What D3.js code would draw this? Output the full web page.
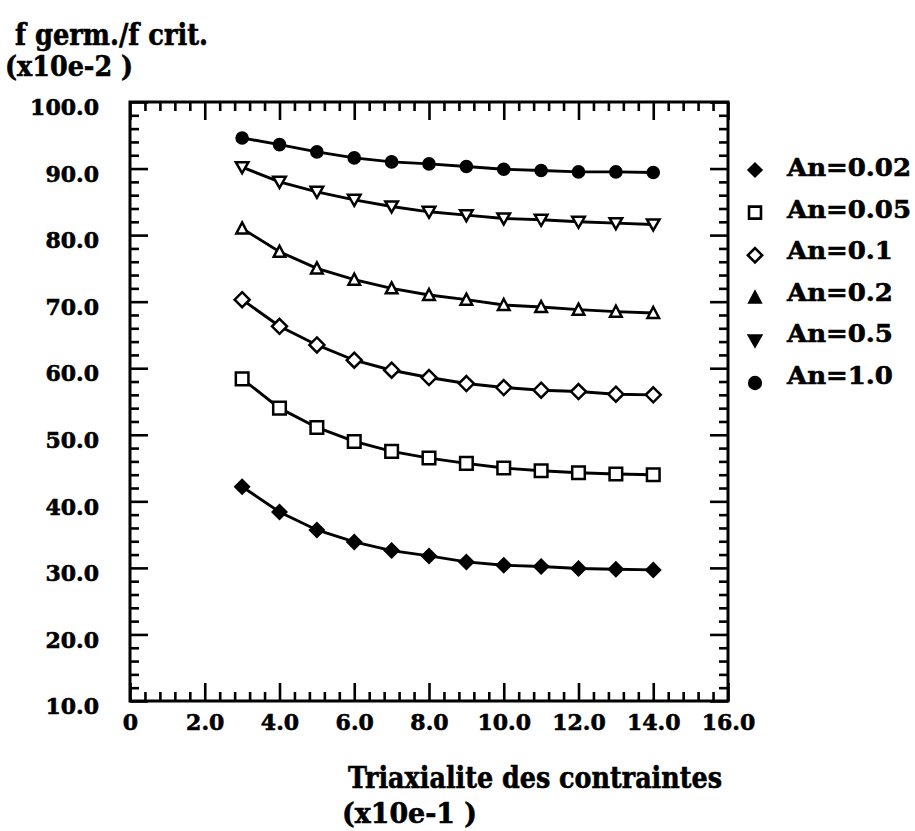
<!DOCTYPE html>
<html>
<head>
<meta charset="utf-8">
<script src="https://cdn.jsdelivr.net/npm/d3@7"></script>
<style>
  html, body { margin: 0; padding: 0; background: #fff; }
  svg { display: block; }
  text { font-family: "DejaVu Serif", "Liberation Serif", serif; font-weight: bold; fill: #000; stroke: #000; stroke-width: 0.6px; }
</style>
</head>
<body>
<svg id="chart" width="915" height="831"></svg>
<script>
// ---------- data ----------
const xValues = [3, 4, 5, 6, 7, 8, 9, 10, 11, 12, 13, 14];
const seriesNames = ["An=0.02", "An=0.05", "An=0.1", "An=0.2", "An=0.5", "An=1.0"];
const an002 = [42.2, 38.4, 35.7, 33.9, 32.6, 31.8, 30.9, 30.4, 30.2, 29.9, 29.8, 29.7];
const an005 = [58.4, 54.0, 51.1, 49.0, 47.5, 46.5, 45.7, 45.0, 44.6, 44.3, 44.1, 44.0];
const an01  = [70.3, 66.3, 63.5, 61.2, 59.7, 58.6, 57.7, 57.1, 56.7, 56.5, 56.1, 56.0];
const an02  = [81.0, 77.5, 75.0, 73.3, 72.0, 71.0, 70.3, 69.5, 69.2, 68.8, 68.5, 68.3];
const an05  = [90.2, 88.0, 86.5, 85.3, 84.3, 83.5, 83.0, 82.5, 82.3, 82.0, 81.8, 81.6];
const an10  = [94.6, 93.6, 92.5, 91.6, 91.0, 90.7, 90.3, 89.9, 89.7, 89.5, 89.5, 89.4];
const xTickValues = [0, 2, 4, 6, 8, 10, 12, 14, 16];
const xTickLabels = ["0", "2.0", "4.0", "6.0", "8.0", "10.0", "12.0", "14.0", "16.0"];
const yTickValues = [10, 20, 30, 40, 50, 60, 70, 80, 90, 100];
const yTickLabels = ["10.0", "20.0", "30.0", "40.0", "50.0", "60.0", "70.0", "80.0", "90.0", "100.0"];
const yTitle = ["f germ./f crit.", "(x10e-2 )"];
const xTitle = ["Triaxialite des contraintes", "(x10e-1 )"];

// ---------- setup ----------
const seriesValues = [an002, an005, an01, an02, an05, an10];
const markerKinds = ["diamondFilled", "square", "diamondOpen", "triUp", "triDown", "circle"];

const svg = d3.select("#chart");
const x = d3.scaleLinear().domain([0, 16]).range([130, 728]);
const y = d3.scaleLinear().domain([10, 100]).range([701, 102]);

const xMinor = d3.range(0, 16.0001, 0.4).filter(v => Math.abs(v / 2 - Math.round(v / 2)) > 1e-6);
const yMinor = d3.range(10, 100.0001, 2).filter(v => v % 10 !== 0);

function styleAxis(g) {
  g.select(".domain").remove();
  g.selectAll(".tick line").attr("stroke", "#000").attr("stroke-width", 2.6);
  g.selectAll(".tick text").style("font-size", "22px").attr("fill", "#000");
}

const X0 = x.range()[0], X1 = x.range()[1], Y0 = y.range()[0], Y1 = y.range()[1];

// bottom axis (labels + major)
svg.append("g").attr("transform", `translate(0,${Y0})`)
  .call(d3.axisBottom(x).tickValues(xTickValues).tickSizeInner(-18).tickSizeOuter(0).tickPadding(13)
    .tickFormat((d, i) => xTickLabels[i]))
  .call(styleAxis);
svg.append("g").attr("transform", `translate(0,${Y0})`)
  .call(d3.axisBottom(x).tickValues(xMinor).tickSizeInner(-9).tickSizeOuter(0).tickFormat(""))
  .call(styleAxis);
// top axis
svg.append("g").attr("transform", `translate(0,${Y1})`)
  .call(d3.axisTop(x).tickValues(xTickValues).tickSizeInner(-18).tickSizeOuter(0).tickFormat(""))
  .call(styleAxis);
svg.append("g").attr("transform", `translate(0,${Y1})`)
  .call(d3.axisTop(x).tickValues(xMinor).tickSizeInner(-9).tickSizeOuter(0).tickFormat(""))
  .call(styleAxis);
// left axis
const gl = svg.append("g").attr("transform", `translate(${X0},0)`)
  .call(d3.axisLeft(y).tickValues(yTickValues).tickSizeInner(-18).tickSizeOuter(0).tickPadding(31)
    .tickFormat((d, i) => yTickLabels[i]))
  .call(styleAxis);
gl.selectAll(".tick text").attr("dy", "0.58em");
svg.append("g").attr("transform", `translate(${X0},0)`)
  .call(d3.axisLeft(y).tickValues(yMinor).tickSizeInner(-9).tickSizeOuter(0).tickFormat(""))
  .call(styleAxis);
// right axis
svg.append("g").attr("transform", `translate(${X1},0)`)
  .call(d3.axisRight(y).tickValues(yTickValues).tickSizeInner(-18).tickSizeOuter(0).tickFormat(""))
  .call(styleAxis);
svg.append("g").attr("transform", `translate(${X1},0)`)
  .call(d3.axisRight(y).tickValues(yMinor).tickSizeInner(-9).tickSizeOuter(0).tickFormat(""))
  .call(styleAxis);

// frame
svg.append("rect")
  .attr("x", X0).attr("y", Y1).attr("width", X1 - X0).attr("height", Y0 - Y1)
  .attr("fill", "none").attr("stroke", "#000").attr("stroke-width", 3);

// ---------- markers ----------
function markerPath(kind, s) {
  switch (kind) {
    case "diamondFilled": { const r = 8.5 * s; return `M0,${-r}L${r},0L0,${r}L${-r},0Z`; }
    case "diamondOpen": { const r = 7.5 * s; return `M0,${-r}L${r},0L0,${r}L${-r},0Z`; }
    case "square": { const h = 6.3 * s; return `M${-h},${-h}H${h}V${h}H${-h}Z`; }
    case "triUp": { const w = 5.8 * s, h = 5 * s; return `M0,${-h - 1}L${w},${h}L${-w},${h}Z`; }
    case "triDown": { const w = 6.3 * s, h = 5 * s; return `M0,${h + 1}L${w},${-h}L${-w},${-h}Z`; }
    case "circle": { const r = 6.8 * s; return `M${r},0A${r},${r} 0 1,1 ${-r},0A${r},${r} 0 1,1 ${r},0Z`; }
  }
}
function isFilled(kind) { return kind === "diamondFilled" || kind === "circle"; }

const line = d3.line().x(d => x(d[0])).y(d => y(d[1]));

seriesValues.forEach((vals, si) => {
  const pts = xValues.map((xv, i) => [xv, vals[i]]);
  const kind = markerKinds[si];
  svg.append("path").datum(pts)
    .attr("d", line).attr("fill", "none").attr("stroke", "#000").attr("stroke-width", 2.9);
  svg.append("g").selectAll("path").data(pts).join("path")
    .attr("transform", d => `translate(${x(d[0])},${y(d[1])})`)
    .attr("d", markerPath(kind, 1))
    .attr("fill", isFilled(kind) ? "#000" : "#fff")
    .attr("stroke", "#000")
    .attr("stroke-width", isFilled(kind) ? 0 : 2.5)
    .attr("stroke-linejoin", "miter");
});

// ---------- legend ----------
const legendFilled = k => isFilled(k) || k === "triUp" || k === "triDown";
const legend = svg.append("g");
let legendFactor = null;
seriesNames.forEach((name, i) => {
  const kind = markerKinds[i];
  legend.append("path")
    .attr("transform", `translate(755,${170 + i * 42.6})`)
    .attr("d", markerPath(kind, kind === "circle" ? 1.05 : 0.95))
    .attr("fill", legendFilled(kind) ? "#000" : "#fff")
    .attr("stroke", "#000")
    .attr("stroke-width", isFilled(kind) ? 0 : 2.6);
  const t = legend.append("text")
    .attr("x", 787).attr("y", 176 + i * 41.6)
    .style("font-size", "24px")
    .text(name);
  const w = t.node().getComputedTextLength();
  if (legendFactor === null) legendFactor = 124 / w;
  t.attr("textLength", w * legendFactor).attr("lengthAdjust", "spacingAndGlyphs");
});

// ---------- titles ----------
function fitText(sel, width) {
  sel.attr("textLength", width).attr("lengthAdjust", "spacingAndGlyphs");
}
svg.append("text").attr("x", 15).attr("y", 45).style("font-size", "29px").text(yTitle[0]).call(fitText, 193);
svg.append("text").attr("x", 5).attr("y", 76).style("font-size", "28px").text(yTitle[1]).call(fitText, 128);
svg.append("text").attr("x", 348).attr("y", 788).style("font-size", "29px").text(xTitle[0]).call(fitText, 374);
svg.append("text").attr("x", 342).attr("y", 823).style("font-size", "28px").text(xTitle[1]).call(fitText, 135);
</script>
</body>
</html>
